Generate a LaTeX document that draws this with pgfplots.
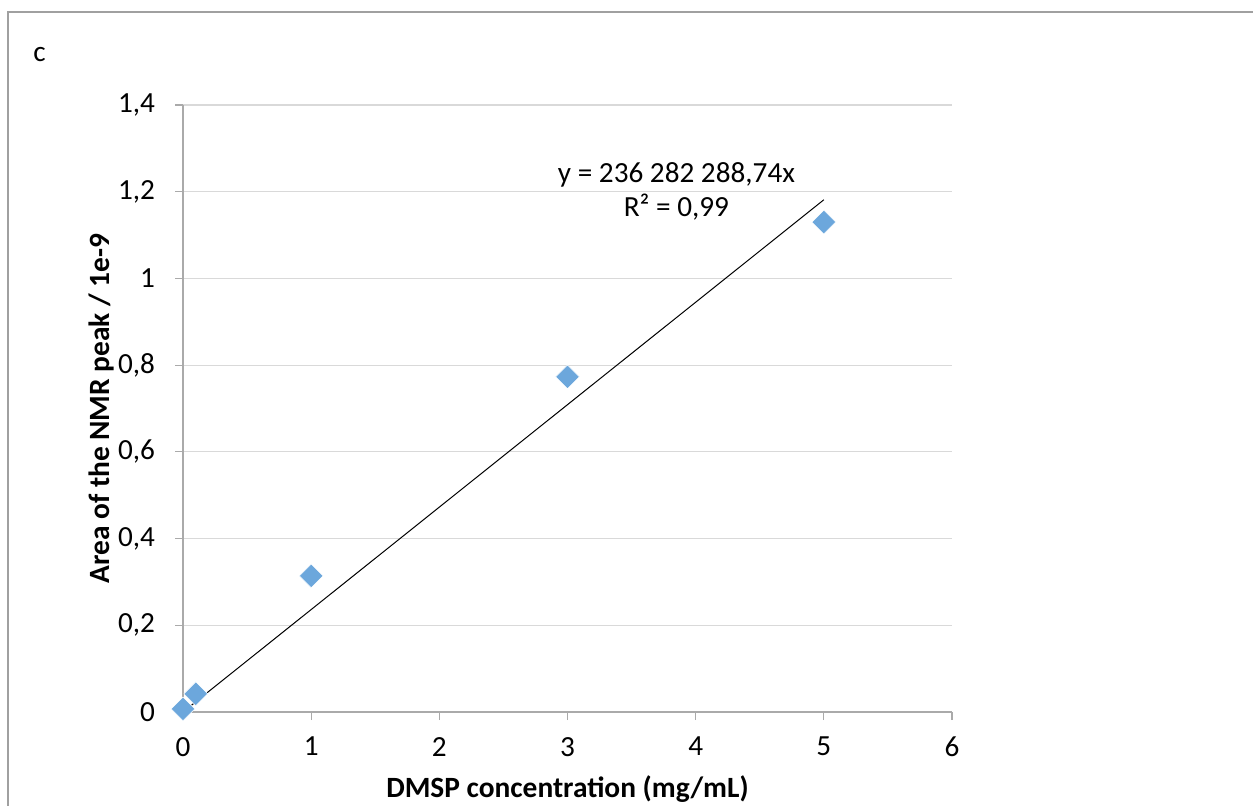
\documentclass[border=0pt]{standalone}
\usepackage{fontspec}
\setmainfont{Carlito}
\usepackage{pgfplots}
\pgfplotsset{compat=1.18}
\definecolor{ptblue}{RGB}{108,167,220}
\definecolor{gridgray}{RGB}{217,217,217}
\definecolor{axgray}{RGB}{170,170,170}
\definecolor{framegray}{RGB}{160,160,160}
\begin{document}
\begin{tikzpicture}[x=1pt,y=1pt]
\path[use as bounding box] (0pt,0pt) rectangle (626.5pt,402.5pt);
\begin{scope}
\clip (0pt,0pt) rectangle (626.5pt,402.5pt);
\draw[framegray, line width=0.8pt] (4pt,-20pt) -- (4pt,396.5pt) -- (650pt,396.5pt);
\end{scope}
\node[anchor=base west, inner sep=0pt, font=\fontsize{14.6}{17}\selectfont] at (16.5pt,371.6pt) {c};
\begin{axis}[
  at={(91.5pt,46.5pt)}, anchor=south west,
  scale only axis, width=384.5pt, height=303.5pt,
  xmin=0, xmax=6, ymin=0, ymax=1.4,
  xtick={0,1,2,3,4,5,6},
  ytick={0,0.2,0.4,0.6,0.8,1,1.2,1.4},
  axis x line*=bottom, axis y line*=left,
  axis line style={axgray, line width=0.6pt, -},
  ymajorgrids, grid style={gridgray, line width=0.6pt},
  tick align=outside, major tick length=4pt,
  tick style={axgray, line width=0.6pt},
  tick label style={font=\fontsize{14.6}{17}\selectfont, black},
  xticklabel style={yshift=-5pt},
  yticklabel style={xshift=-6.5pt},
  /pgf/number format/.cd, use comma, assume math mode=true,
  /pgfplots/.cd,
  xlabel={\textbf{DMSP concentration (mg/mL)}},
  ylabel={\textbf{Area of the NMR peak / 1e-9}},
  label style={font=\fontsize{14.7}{18}\selectfont},
  xlabel style={at={(axis description cs:0.5,0)}, anchor=base, yshift=-42.5pt},
  ylabel style={at={(axis description cs:-0.106,0.5)}, anchor=center},
  clip=false,
]
\addplot[black, line width=0.5pt] coordinates {(0,0) (5,1.1814)};
\addplot[only marks, mark=square*, mark size=4.2pt,
  mark options={rotate=45, fill=ptblue, draw=white, line width=0.25pt}]
  coordinates {(0,0.007) (0.1,0.042) (1,0.314) (3,0.773) (5,1.13)};
\node[align=center, font=\fontsize{14.6}{17}\selectfont] at (axis cs:3.85,1.2)
  {y = 236 282 288,74x\\R² = 0,99};
\end{axis}
\end{tikzpicture}
\end{document}
